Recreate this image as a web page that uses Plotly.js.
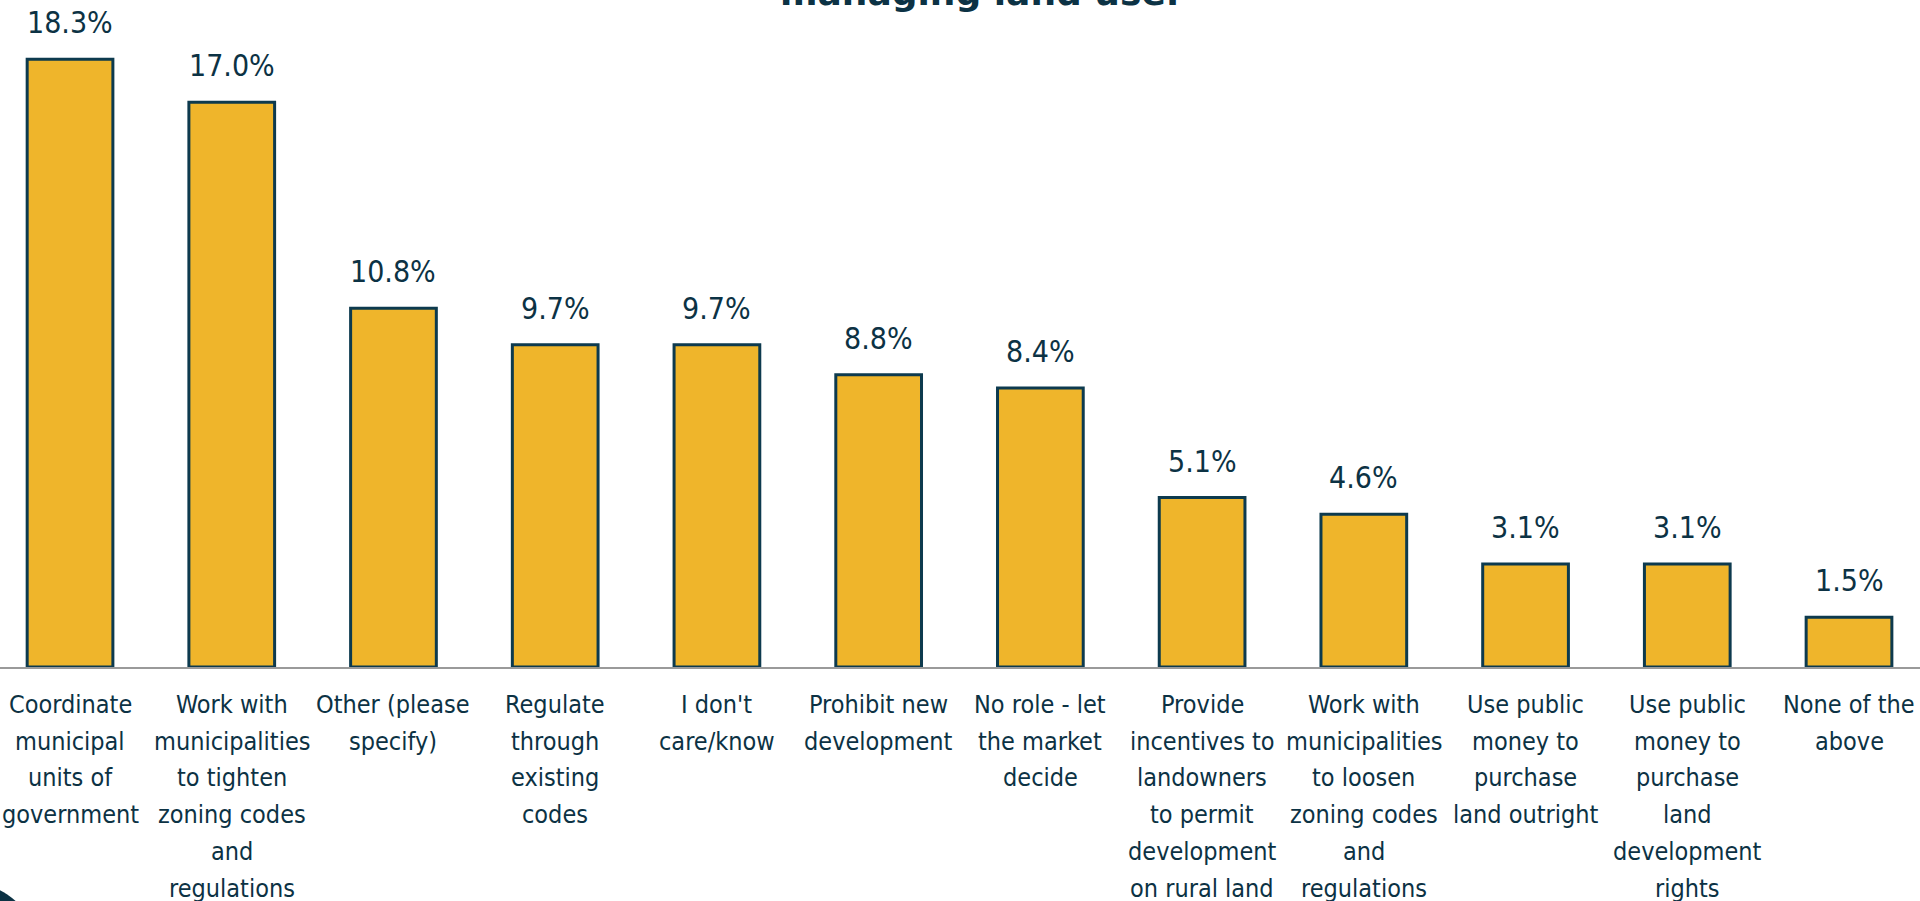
<!DOCTYPE html>
<html>
<head>
<meta charset="utf-8">
<script src="https://cdn.plot.ly/plotly-3.0.1.min.js"></script>
<style>
  html, body { margin: 0; padding: 0; background: #ffffff; overflow: hidden; }
  #chart { width: 1920px; height: 901px; }
</style>
</head>
<body>
<div id="chart"></div>
<script>
// ---- Data ----
const categories = [
  "Coordinate municipal units of government",
  "Work with municipalities to tighten zoning codes and regulations",
  "Other (please specify)",
  "Regulate through existing codes",
  "I don't care/know",
  "Prohibit new development",
  "No role - let the market decide",
  "Provide incentives to landowners to permit development on rural land",
  "Work with municipalities to loosen zoning codes and regulations",
  "Use public money to purchase land outright",
  "Use public money to purchase land development rights",
  "None of the above"
];
const values = [18.3, 17.0, 10.8, 9.7, 9.7, 8.8, 8.4, 5.1, 4.6, 3.1, 3.1, 1.5];
const tickLabelLines = [
  ["Coordinate", "municipal", "units of", "government"],
  ["Work with", "municipalities", "to tighten", "zoning codes", "and", "regulations"],
  ["Other (please", "specify)"],
  ["Regulate", "through", "existing", "codes"],
  ["I don't", "care/know"],
  ["Prohibit new", "development"],
  ["No role - let", "the market", "decide"],
  ["Provide", "incentives to", "landowners", "to permit", "development", "on rural land"],
  ["Work with", "municipalities", "to loosen", "zoning codes", "and", "regulations"],
  ["Use public", "money to", "purchase", "land outright"],
  ["Use public", "money to", "purchase", "land", "development", "rights"],
  ["None of the", "above"]
];
const titleText = "managing land use.";

// ---- Styles ----
const textColor = "#0c3244";
const barFill = "#efb52b";
const barLine = "#0d3a4e";
const labelFont = "DejaVu Sans Condensed, DejaVu Sans, sans-serif";
const lineStep = 36.7;

const annotations = [];
// value labels
categories.forEach((c, i) => {
  annotations.push({
    x: c, y: values[i], xref: "x", yref: "y",
    text: values[i].toFixed(1) + "%",
    showarrow: false, yanchor: "bottom", yshift: 17,
    font: { family: labelFont, size: 30, color: textColor }
  });
});
// category labels (one annotation per line)
categories.forEach((c, i) => {
  tickLabelLines[i].forEach((ln, j) => {
    annotations.push({
      x: c, y: 0, xref: "x", yref: "paper",
      text: ln, showarrow: false, yanchor: "top",
      yshift: -21 - j * lineStep,
      font: { family: labelFont, size: 25, color: textColor }
    });
  });
});
// partially visible title
annotations.push({
  x: 0.51, y: 1, xref: "paper", yref: "paper",
  text: "<b>" + titleText + "</b>", showarrow: false,
  yanchor: "bottom", yshift: -15,
  font: { family: "DejaVu Sans, sans-serif", size: 36, color: textColor }
});

const trace = {
  type: "bar",
  x: categories,
  y: values,
  width: 0.53,
  marker: { color: barFill, line: { color: barLine, width: 3 } },
  hoverinfo: "x+y"
};

const layout = {
  width: 1920, height: 901,
  margin: { l: 0, r: 0, t: 0, b: 234, pad: 0 },
  paper_bgcolor: "#ffffff", plot_bgcolor: "#ffffff",
  showlegend: false,
  xaxis: {
    type: "category",
    range: [-0.433, 11.439],
    showticklabels: false, ticks: "",
    showgrid: false, zeroline: false,
    showline: true, linecolor: "#9a9a9a", linewidth: 2
  },
  yaxis: {
    range: [0, 20.08],
    showticklabels: false, showgrid: false, zeroline: false, showline: false, ticks: ""
  },
  annotations: annotations,
  shapes: [{
    type: "circle", xref: "paper", yref: "paper",
    x0: -0.0505, x1: 0.0193, y0: -0.525, y1: -0.324,
    fillcolor: "#0c3244", line: { width: 0 }, layer: "above"
  }]
};

Plotly.newPlot("chart", [trace], layout, { displayModeBar: false });
</script>
</body>
</html>
